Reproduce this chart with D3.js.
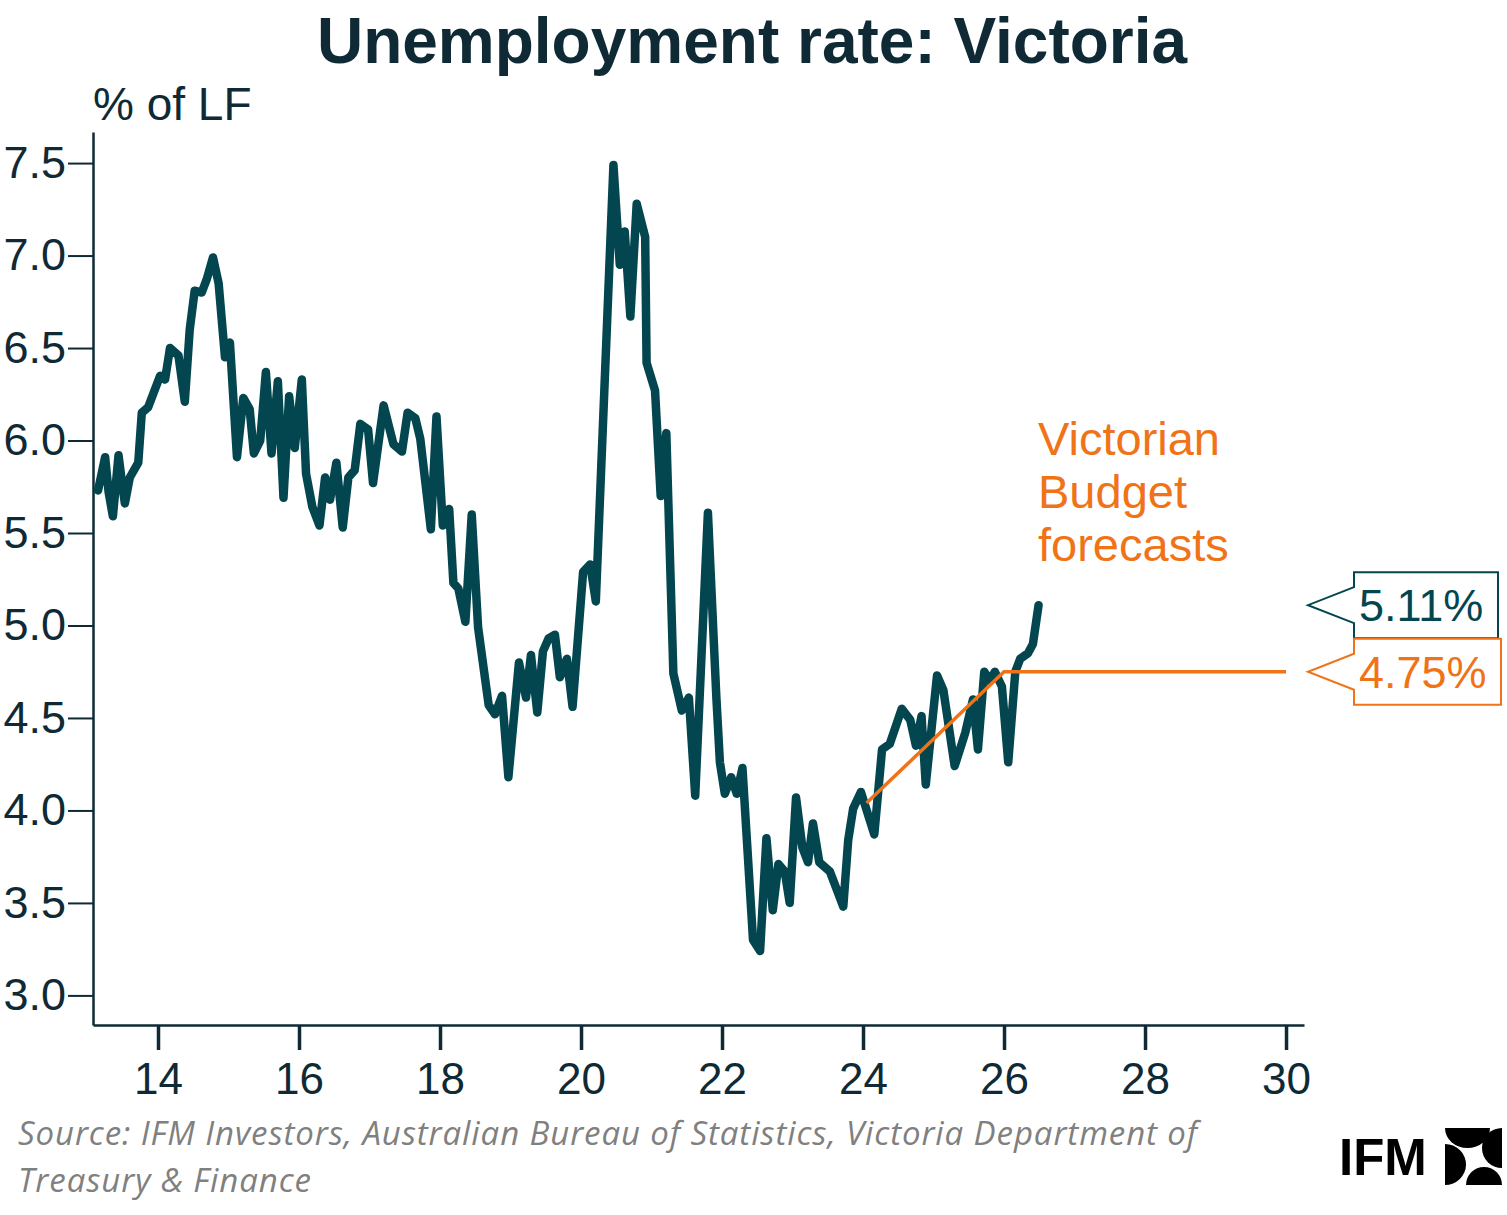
<!DOCTYPE html>
<html>
<head>
<meta charset="utf-8">
<script src="https://cdn.jsdelivr.net/npm/d3@7"></script>
<style>
	body { margin: 0; background: #fff; }
	svg { display: block; }
	.axis text { font-family: "Liberation Sans", Arial, sans-serif; font-size: 44px; fill: #0f2a35; }
</style>
</head>
<body>
<svg id="chart" width="1507" height="1215"></svg>
<script>
/* monthly-ish unemployment rate, Victoria (% of labour force) */
var years = [13.15, 13.25, 13.30, 13.36, 13.44, 13.49, 13.53, 13.60, 13.72, 13.77, 13.86,
	14.03, 14.10, 14.17, 14.29, 14.38, 14.45, 14.52, 14.62, 14.69, 14.78, 14.86, 14.95,
	15.02, 15.12, 15.21, 15.30, 15.36, 15.45, 15.53, 15.61, 15.70, 15.78, 15.86, 15.94,
	16.04, 16.10, 16.19, 16.29, 16.37, 16.44, 16.53, 16.62, 16.70, 16.79, 16.87, 16.98,
	17.05, 17.20, 17.34, 17.46, 17.54, 17.65, 17.72, 17.87, 17.95,
	18.04, 18.13, 18.19, 18.26, 18.36, 18.45, 18.54, 18.69, 18.78, 18.88, 18.97,
	19.12, 19.22, 19.29, 19.38, 19.46, 19.54, 19.63, 19.70, 19.80, 19.88,
	20.03, 20.13, 20.21, 20.46, 20.55, 20.62, 20.70, 20.79, 20.91, 20.93,
	21.05, 21.13, 21.21, 21.31, 21.43, 21.53, 21.62, 21.80, 21.92, 21.97,
	22.04, 22.13, 22.21, 22.29, 22.44, 22.54, 22.63, 22.72, 22.80, 22.89, 22.96,
	23.05, 23.14, 23.22, 23.29, 23.38, 23.53, 23.63, 23.72, 23.79, 23.86, 23.97,
	24.16, 24.27, 24.38, 24.55, 24.67, 24.75, 24.83, 24.89,
	25.05, 25.14, 25.30, 25.45, 25.56, 25.63, 25.72, 25.80, 25.87, 25.97,
	26.06, 26.16, 26.23, 26.34, 26.41, 26.49];
var rate = [5.73, 5.91, 5.72, 5.59, 5.92, 5.77, 5.66, 5.80, 5.88, 6.15, 6.18,
	6.35, 6.33, 6.50, 6.46, 6.21, 6.60, 6.81, 6.80, 6.87, 6.99, 6.85, 6.45,
	6.53, 5.91, 6.23, 6.17, 5.93, 6.00, 6.37, 5.93, 6.32, 5.69, 6.24, 5.96,
	6.33, 5.82, 5.64, 5.54, 5.80, 5.68, 5.88, 5.53, 5.80, 5.84, 6.09, 6.06,
	5.77, 6.19, 5.98, 5.94, 6.15, 6.12, 6.01, 5.52, 6.13,
	5.54, 5.63, 5.23, 5.20, 5.02, 5.60, 4.99, 4.57, 4.52, 4.62, 4.18,
	4.80, 4.61, 4.84, 4.53, 4.86, 4.93, 4.95, 4.72, 4.82, 4.56,
	5.29, 5.33, 5.13, 7.49, 6.95, 7.13, 6.67, 7.28, 7.10, 6.42,
	6.27, 5.70, 6.04, 4.74, 4.54, 4.61, 4.08, 5.61, 4.61, 4.26,
	4.09, 4.18, 4.09, 4.23, 3.30, 3.24, 3.85, 3.46, 3.71, 3.67, 3.50,
	4.07, 3.80, 3.72, 3.93, 3.72, 3.67, 3.57, 3.48, 3.84, 4.01, 4.10,
	3.87, 4.33, 4.36, 4.55, 4.49, 4.35, 4.51, 4.14,
	4.73, 4.65, 4.24, 4.42, 4.60, 4.33, 4.75, 4.70, 4.75, 4.67,
	4.26, 4.75, 4.82, 4.85, 4.90, 5.11];

var forecastYears = [24.05, 26, 30];
var forecastRate = [4.04, 4.75, 4.75];

var xTicks = [14, 16, 18, 20, 22, 24, 26, 28, 30];
var yTicks = [3.0, 3.5, 4.0, 4.5, 5.0, 5.5, 6.0, 6.5, 7.0, 7.5];

var latestRate = 5.11;
var budgetRate = 4.75;

var navy = "#0f2a35", teal = "#03464f", orange = "#f07318";

var svg = d3.select("#chart");

var x = d3.scaleLinear().domain([13.078, 30.255]).range([93, 1304]);
var y = d3.scaleLinear().domain([2.84, 7.668]).range([1025, 132]);

// title + y unit
svg.append("text")
	.attr("x", 752).attr("y", 63)
	.attr("text-anchor", "middle")
	.style("font-family", "'Liberation Sans', Arial, sans-serif")
	.style("font-weight", "bold").style("font-size", "64px")
	.style("fill", navy)
	.text("Unemployment rate: Victoria");

svg.append("text")
	.attr("x", 93).attr("y", 120)
	.style("font-family", "'Liberation Sans', Arial, sans-serif")
	.style("font-size", "46px").style("fill", navy)
	.text("% of LF");

// axes
var yAxis = svg.append("g").attr("class", "axis")
	.attr("transform", "translate(93,0)")
	.call(d3.axisLeft(y).tickValues(yTicks).tickFormat(d3.format(".1f"))
		.tickSize(25).tickSizeOuter(0).tickPadding(2));
yAxis.selectAll("line").attr("stroke", navy).attr("stroke-width", 2);
yAxis.select(".domain").attr("stroke", navy).attr("stroke-width", 2.5);
yAxis.selectAll("text").style("font-size", "45px");

var xAxis = svg.append("g").attr("class", "axis")
	.attr("transform", "translate(0,1025)")
	.call(d3.axisBottom(x).tickValues(xTicks).tickFormat(d3.format("d"))
		.tickSize(25).tickSizeOuter(0).tickPadding(13));
xAxis.selectAll("line").attr("stroke", navy).attr("stroke-width", 3.5);
xAxis.select(".domain").attr("stroke", navy).attr("stroke-width", 2.5);

// series
var line = d3.line().x(d => x(d[0])).y(d => y(d[1]));

svg.append("path")
	.datum(d3.zip(years, rate))
	.attr("d", line)
	.attr("fill", "none")
	.attr("stroke", teal)
	.attr("stroke-width", 8.5)
	.attr("stroke-linejoin", "round")
	.attr("stroke-linecap", "round");

svg.append("path")
	.datum(d3.zip(forecastYears, forecastRate))
	.attr("d", line)
	.attr("fill", "none")
	.attr("stroke", orange)
	.attr("stroke-width", 3.5);

// annotation
var note = svg.append("text")
	.style("font-family", "'Liberation Sans', Arial, sans-serif")
	.style("font-size", "47px").style("fill", orange);
["Victorian", "Budget", "forecasts"].forEach(function(s, i) {
	note.append("tspan").attr("x", 1038).attr("y", 455 + i * 53).text(s);
});

// value callouts
function callout(value, color, w) {
	var cy = y(value), l = 1354, h = 66, tip = 1308;
	var p = d3.path();
	p.moveTo(l, cy - h / 2);
	p.lineTo(l + w, cy - h / 2);
	p.lineTo(l + w, cy + h / 2);
	p.lineTo(l, cy + h / 2);
	p.lineTo(l, cy + 18);
	p.lineTo(tip, cy);
	p.lineTo(l, cy - 18);
	p.closePath();
	svg.append("path").attr("d", p.toString())
		.attr("fill", "#fff").attr("stroke", color).attr("stroke-width", 2);
	svg.append("text")
		.attr("x", l + 5).attr("y", cy + 16)
		.style("font-family", "'Liberation Sans', Arial, sans-serif")
		.style("font-size", "45px").style("fill", color)
		.text(value.toFixed(2) + "%");
}
callout(latestRate, teal, 144);
callout(budgetRate, orange, 147);

// source
var src = svg.append("text")
	.style("font-family", "'Open Sans', sans-serif")
	.style("font-style", "italic").style("font-size", "33px")
	.style("letter-spacing", "0.9px")
	.style("fill", "#808080");
src.append("tspan").attr("x", 18).attr("y", 1145)
	.text("Source: IFM Investors, Australian Bureau of Statistics, Victoria Department of");
src.append("tspan").attr("x", 18).attr("y", 1192)
	.text("Treasury & Finance");

// logo
svg.append("text")
	.attr("x", 1339).attr("y", 1175)
	.style("font-family", "'Liberation Sans', Arial, sans-serif")
	.style("font-weight", "bold").style("font-size", "51px")
	.style("fill", "#000")
	.text("IFM");

var logo = svg.append("g").attr("fill", "#000");
logo.append("path").attr("d", "M1445,1128 L1490,1128 A22.5,20 0 0 1 1445,1128 Z");
logo.append("path").attr("d", "M1502,1128 L1502,1168 A20,20 0 0 1 1502,1128 Z");
logo.append("path").attr("d", "M1502,1185 L1466,1185 A18,18 0 0 1 1502,1185 Z");
logo.append("path").attr("d", "M1445,1185 L1445,1144 A21,20.5 0 0 1 1445,1185 Z");
</script>
</body>
</html>
